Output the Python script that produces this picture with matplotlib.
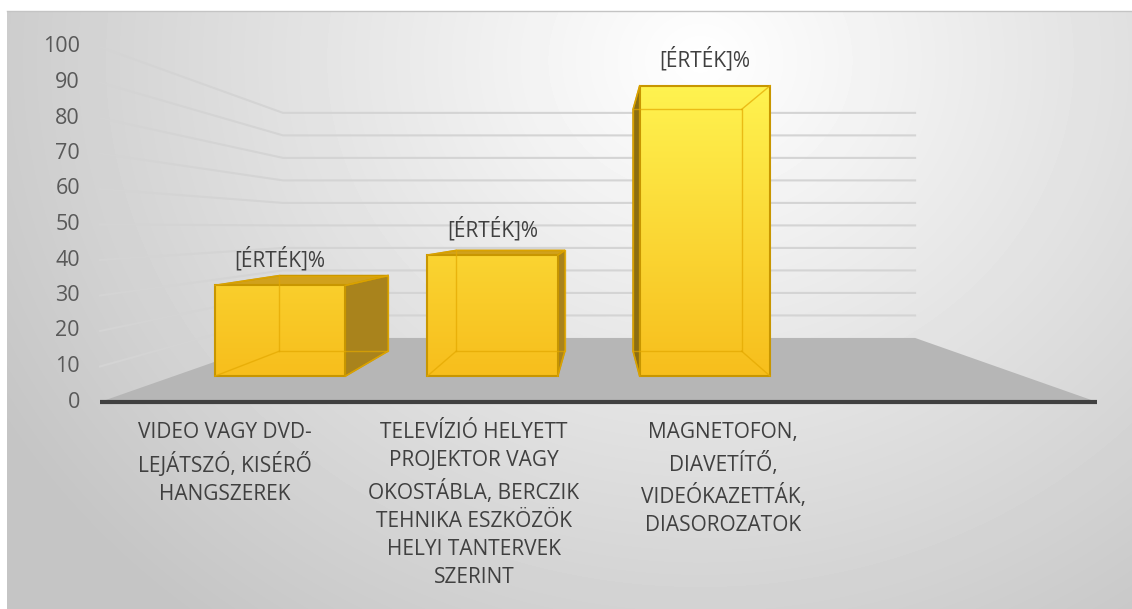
import numpy as np
import matplotlib
matplotlib.use("Agg")
import matplotlib.pyplot as plt
from matplotlib.patches import Polygon

plt.rcParams['font.family'] = ['Open Sans', 'DejaVu Sans']

# chart data
categories = [
    "VIDEO VAGY DVD-\nLEJÁTSZÓ, KISÉRŐ\nHANGSZEREK",
    "TELEVÍZIÓ HELYETT\nPROJEKTOR VAGY\nOKOSTÁBLA, BERCZIK\nTEHNIKA ESZKÖZÖK\nHELYI TANTERVEK\nSZERINT",
    "MAGNETOFON,\nDIAVETÍTŐ,\nVIDEÓKAZETTÁK,\nDIASOROZATOK",
]
values = [30, 40, 96]
yticks = list(range(0, 101, 10))
data_label = "[ÉRTÉK]%"
n_slots = 4  # the category axis has one empty slot at the right

# 3d look: one point perspective (screen pixels)
W, H = 1132, 609
vpx, vpy = 600, 227          # vanishing point
x0, x1 = 100, 1097           # front edge of the floor
y0 = 402                     # value 0 on the front plane
ppu = 3.55                   # pixels per value unit on the front plane
k = 1 / 0.634 - 1            # depth scale so the back wall is at s=0.634
slot = (x1 - x0) / n_slots
half_w = 0.307 * slot
zf, zb = 0.30, 0.71          # bar depth range (0 = front, 1 = back wall)


def proj(xf, v, z):
    s = 1 / (1 + k * z)
    yf = y0 - v * ppu
    return (vpx + (xf - vpx) * s, vpy + (yf - vpy) * s)


fig = plt.figure(figsize=(W / 100, H / 100), dpi=100)
ax = fig.add_axes([0, 0, 1, 1])
ax.set_xlim(0, W)
ax.set_ylim(H, 0)
ax.axis('off')

# background radial gradient
gx, gy = np.meshgrid(np.arange(7, W), np.arange(11, H))
r = np.sqrt(((gx - 700) / 700.0) ** 2 + ((gy - 60) / 620.0) ** 2)
bg = 255 - 58 * np.clip(r, 0, 1.15) / 1.15
ax.imshow(bg, cmap='gray', vmin=0, vmax=255, extent=[7, W, H, 11],
          interpolation='bilinear', zorder=0)
ax.plot([7, W], [11, 11], color='#c4c4c4', lw=1, zorder=1)

# gridlines on the left wall and back wall
for v in yticks[1:]:
    a = proj(x0, v, 0)
    b = proj(x0, v, 1)
    c = proj(x1, v, 1)
    ax.plot([a[0], b[0], c[0]], [a[1], b[1], c[1]], color='#d4d4d4', lw=1.5,
            zorder=2, solid_joinstyle='miter')

# floor
floor = [proj(x0, 0, 0), proj(x1, 0, 0), proj(x1, 0, 1), proj(x0, 0, 1)]
ax.add_patch(Polygon(floor, closed=True, fc='#b6b6b6', ec='none', zorder=3))
ax.plot([x0, x1], [y0, y0], color='#404040', lw=3, zorder=4,
        solid_capstyle='butt')

# y tick labels
for v in yticks:
    ax.text(80, proj(x0, v, 0)[1], str(v), ha='right', va='center',
            fontsize=15.5, color='#595959', zorder=5)

# gradient used for the front faces
grad = np.linspace(0, 1, 256).reshape(-1, 1)
top_col = np.array([255, 243, 80]) / 255
bot_col = np.array([247, 190, 28]) / 255
grad_img = top_col * (1 - grad[..., None]) + bot_col * grad[..., None]
grad_img = grad_img.reshape(256, 1, 3)

edge = '#c89600'
for i, v in enumerate(values):
    xc = x0 + (i + 0.5) * slot
    xl, xr = xc - half_w, xc + half_w
    # corners
    fbl, fbr = proj(xl, 0, zf), proj(xr, 0, zf)
    ftl, ftr = proj(xl, v, zf), proj(xr, v, zf)
    bbl, bbr = proj(xl, 0, zb), proj(xr, 0, zb)
    btl, btr = proj(xl, v, zb), proj(xr, v, zb)

    zb_ = 6 + i * 0.1
    # side face facing the viewer
    if xr < vpx:
        side = [fbr, bbr, btr, ftr]
        ax.add_patch(Polygon(side, closed=True, fc='#a9831c', ec=edge,
                             lw=1.2, zorder=zb_))
    elif xl > vpx:
        side = [fbl, bbl, btl, ftl]
        ax.add_patch(Polygon(side, closed=True, fc='#8c6e12', ec=edge,
                             lw=1.2, zorder=zb_))
    # top face if it is below the eye line
    if ftl[1] > vpy:
        top = [ftl, ftr, btr, btl]
        ax.add_patch(Polygon(top, closed=True, fc='#d1a11c', ec=edge,
                             lw=1.2, zorder=zb_))
    # front face with gradient
    front = Polygon([fbl, fbr, ftr, ftl], closed=True, fc='none', ec=edge,
                    lw=1.5, zorder=zb_ + 0.03)
    ax.add_patch(front)
    im = ax.imshow(grad_img, extent=[fbl[0], fbr[0], 376, 85],
                   aspect='auto', interpolation='bilinear', zorder=zb_ + 0.02)
    im.set_clip_path(front)
    # hidden edges seen through the bar
    hid = dict(color='#e3a800', lw=1.0, alpha=0.7, zorder=zb_ + 0.04)
    ax.plot([bbl[0], bbr[0], btr[0], btl[0], bbl[0]],
            [bbl[1], bbr[1], btr[1], btl[1], bbl[1]], **hid)
    ax.plot([fbl[0], bbl[0]], [fbl[1], bbl[1]], **hid)
    ax.plot([fbr[0], bbr[0]], [fbr[1], bbr[1]], **hid)
    ax.plot([ftr[0], btr[0]], [ftr[1], btr[1]], **hid)
    ax.plot([ftl[0], btl[0]], [ftl[1], btl[1]], **hid)
    # data label
    ax.text((fbl[0] + fbr[0]) / 2, ftl[1] - 26, data_label, ha='center',
            va='center', fontsize=15, color='#404040', zorder=8)

# category labels
for i, lab in enumerate(categories):
    xc = x0 + (i + 0.5) * slot
    ax.text(xc, 422, lab, ha='center', va='top', fontsize=15, color='#404040',
            linespacing=1.45, zorder=5)

fig.savefig('out.png', dpi=100)
